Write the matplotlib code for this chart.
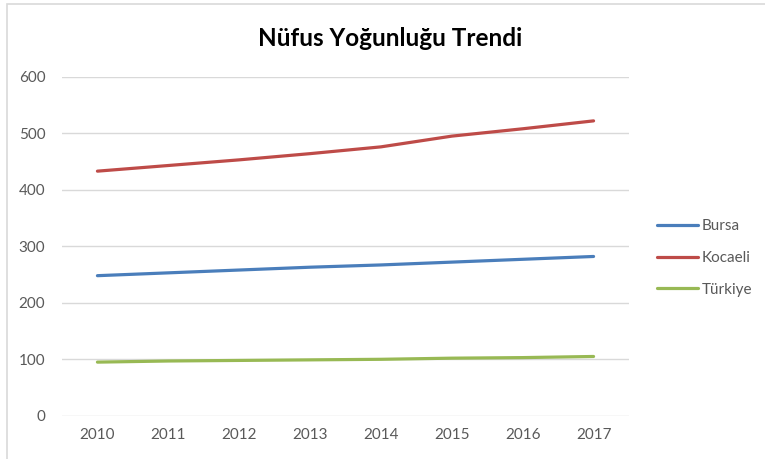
import matplotlib
matplotlib.use("Agg")
import matplotlib.pyplot as plt
from matplotlib.patches import Rectangle

years = ["2010", "2011", "2012", "2013", "2014", "2015", "2016", "2017"]
bursa = [248, 253, 258, 263, 267, 272, 277, 282]
kocaeli = [433, 443, 453, 464, 476, 495, 508, 522]
turkiye = [95, 97, 98, 99, 100, 102, 103, 105]
series_names = ["Bursa", "Kocaeli", "Türkiye"]
colors = ["#4A7EBB", "#BE4B48", "#98B954"]
yticks = [0, 100, 200, 300, 400, 500, 600]

plt.rcParams['font.family'] = ['Lato', 'DejaVu Sans']

W, H = 765, 459
fig = plt.figure(figsize=(W / 100, H / 100), dpi=100)
fig.patch.set_facecolor("white")

# chart border
fig.patches.append(Rectangle((7 / W, -0.05), 1.2, 1 - 4 / H + 0.05,
                             transform=fig.transFigure, fill=False,
                             edgecolor="#D9D9D9", linewidth=1.2))

x0, x1 = 62, 629
y0, y1 = 415.8, 76.8
ax = fig.add_axes([x0 / W, 1 - y0 / H, (x1 - x0) / W, (y0 - y1) / H])
ax.set_facecolor("none")

xs = list(range(len(years)))
for name, vals, c in zip(series_names, [bursa, kocaeli, turkiye], colors):
    ax.plot(xs, vals, color=c, linewidth=2.3, solid_capstyle="round", label=name)

ax.set_xlim(-0.5, len(years) - 0.5)
ax.set_ylim(0, 600)
ax.set_yticks(yticks)
ax.set_yticklabels([str(v) for v in yticks])
ax.set_xticks(xs)
ax.set_xticklabels(years)
ax.grid(axis="y", color="#D9D9D9", linewidth=1.0)
ax.set_axisbelow(True)
for s in ax.spines.values():
    s.set_visible(False)
ax.tick_params(axis="both", length=0, labelsize=11, colors="#595959")
ax.tick_params(axis="y", pad=12)
ax.tick_params(axis="x", pad=9)

fig.text(390 / W, 1 - 38 / H, "Nüfus Yoğunluğu Trendi", ha="center", va="center",
         fontsize=17.5, fontweight="bold", color="#000000")

leg = ax.legend(loc="center left",
                bbox_to_anchor=((657 - x0) / (x1 - x0), (y0 - 258) / (y0 - y1)),
                frameon=False, fontsize=11, handlelength=2.7, handletextpad=0.25,
                labelspacing=1.15, borderpad=0, borderaxespad=0,
                labelcolor="#595959")

fig.savefig("out.png", dpi=100)
